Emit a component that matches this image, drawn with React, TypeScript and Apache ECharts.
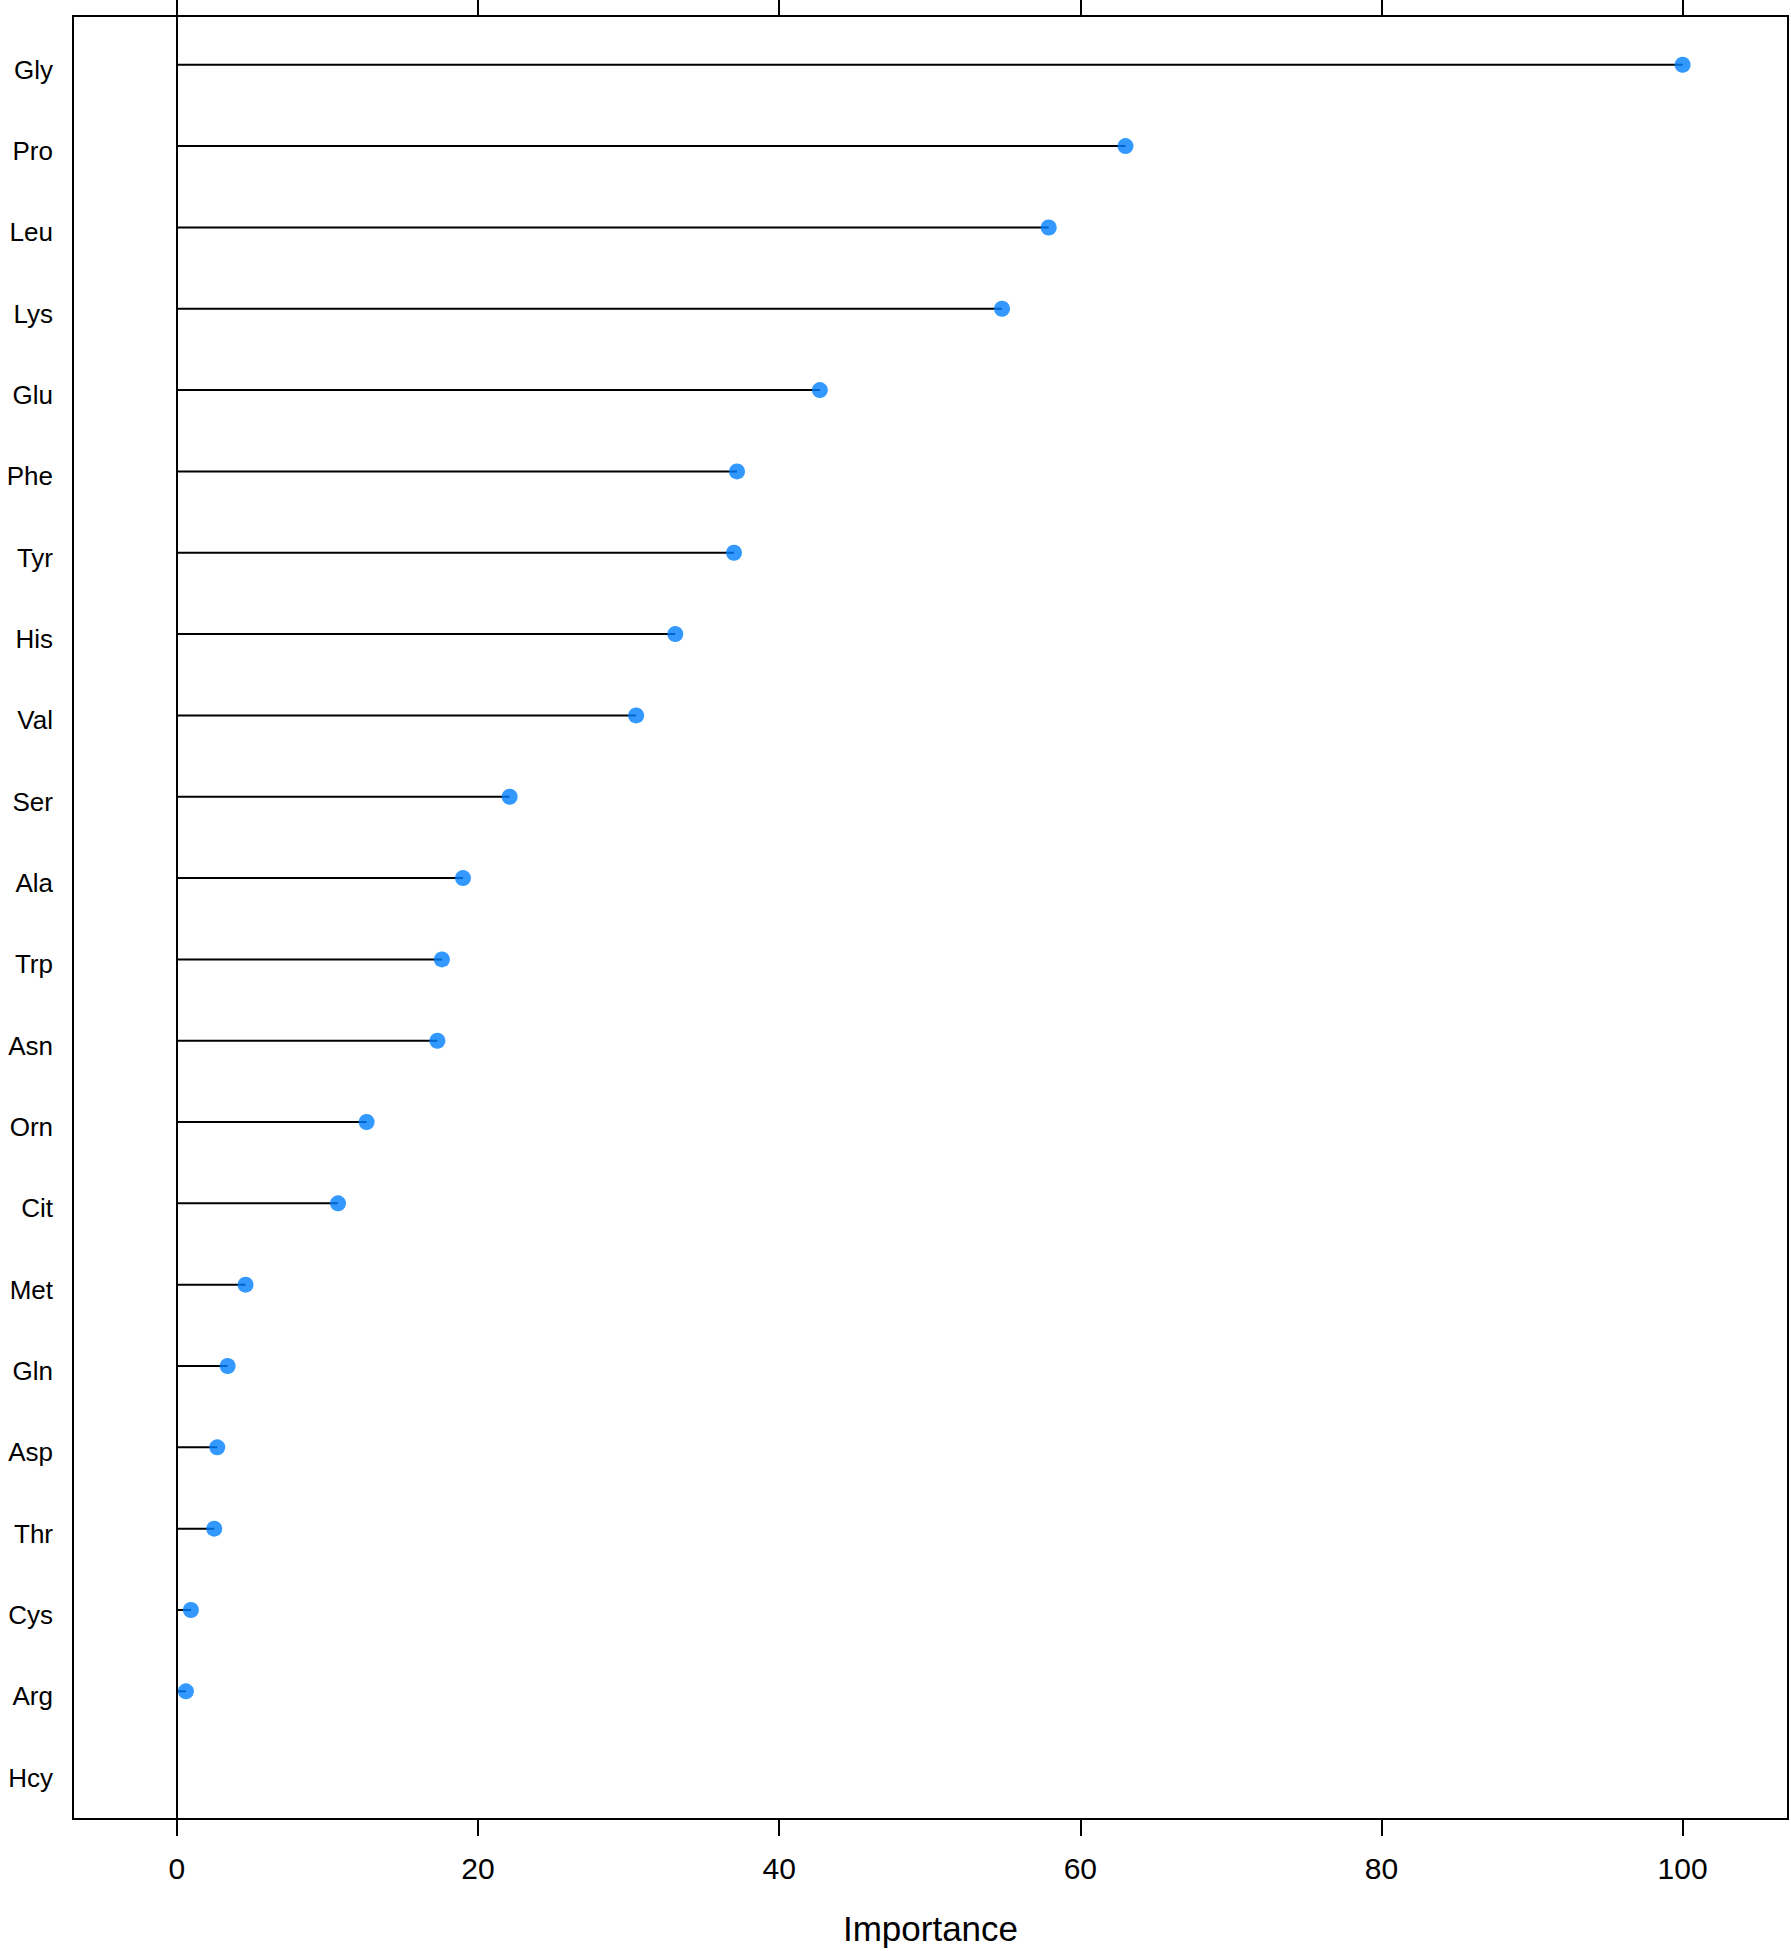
import React, { useEffect, useRef } from "react";
import * as echarts from "echarts";

const categories = [
  "Gly", "Pro", "Leu", "Lys", "Glu", "Phe", "Tyr", "His", "Val", "Ser", "Ala",
  "Trp", "Asn", "Orn", "Cit", "Met", "Gln", "Asp", "Thr", "Cys", "Arg", "Hcy",
];
const importance: (number | null)[] = [
  100, 63.0, 57.9, 54.8, 42.7, 37.2, 37.0, 33.1, 30.5, 22.1, 19.0,
  17.6, 17.3, 12.6, 10.7, 4.56, 3.37, 2.68, 2.48, 0.93, 0.6, null,
];
const xTicks = [0, 20, 40, 60, 80, 100];
const rowIndex = categories.map((_, i) => i);
const xTitle = "Importance";

const FONT = "'Liberation Sans', Arial, sans-serif";

export default function App() {
  const ref = useRef<HTMLDivElement>(null);
  useEffect(() => {
    document.body.style.margin = "0";
    if (!ref.current) return;
    const chart = echarts.init(ref.current, undefined, { renderer: "svg" });
    const pts = importance
      .map((v, i) => (v === null ? null : [v, i]))
      .filter((d) => d !== null) as number[][];
    chart.setOption({
      animation: false,
      backgroundColor: "#ffffff",
      grid: {
        left: 73,
        right: 3,
        top: 16,
        bottom: 132,
        show: true,
        borderColor: "#000",
        borderWidth: 2,
        backgroundColor: "transparent",
      },
      xAxis: [
        {
          type: "value",
          position: "bottom",
          min: -6.9,
          max: 107,
          name: xTitle,
          nameLocation: "middle",
          nameGap: 92,
          nameTextStyle: { fontFamily: FONT, fontSize: 35, color: "#000" },
          axisLine: { show: false, onZero: false },
          splitLine: { show: false },
          axisTick: {
            show: true,
            length: 17,
            customValues: xTicks,
            lineStyle: { color: "#000", width: 2 },
          },
          axisLabel: {
            customValues: xTicks,
            margin: 34,
            fontFamily: "'Liberation Sans Narrow', 'Liberation Sans', Arial, sans-serif",
            fontSize: 30,
            color: "#000",
          },
        },
        {
          type: "value",
          position: "top",
          min: -6.9,
          max: 107,
          axisLine: { show: false, onZero: false },
          splitLine: { show: false },
          axisTick: {
            show: true,
            length: 17,
            customValues: xTicks,
            lineStyle: { color: "#000", width: 2 },
          },
          axisLabel: { show: false },
        },
      ],
      yAxis: {
        type: "value",
        inverse: true,
        min: -0.6,
        max: 21.57,
        axisLine: { show: false, onZero: false },
        axisTick: { show: false },
        splitLine: { show: false },
        axisLabel: {
          customValues: rowIndex,
          formatter: (v: number) => "{a|" + (categories[Math.round(v)] ?? "") + "}",
          margin: 20,
          rich: {
            a: {
              fontFamily: FONT,
              fontSize: 26,
              color: "#000",
              padding: [10, 0, 0, 0],
            },
          },
          fontFamily: FONT,
          fontSize: 26,
          color: "#000",
        },
      },
      series: [
        {
          type: "custom",
          xAxisIndex: 0,
          data: pts,
          renderItem: (params: any, api: any) => {
            const p0 = api.coord([0, api.value(1)]);
            const p1 = api.coord([api.value(0), api.value(1)]);
            return {
              type: "line",
              shape: { x1: p0[0], y1: p0[1], x2: p1[0], y2: p1[1] },
              style: { stroke: "#000", lineWidth: 2 },
            };
          },
          z: 2,
        },
        {
          type: "scatter",
          xAxisIndex: 0,
          data: pts,
          symbol: "circle",
          symbolSize: 16,
          itemStyle: { color: "#0080ff" },
          z: 3,
          markLine: {
            silent: true,
            symbol: "none",
            label: { show: false },
            lineStyle: { color: "#000", width: 2, type: "solid" },
            data: [{ xAxis: 0 }],
          },
        },
      ],
    });
    return () => chart.dispose();
  }, []);
  return <div ref={ref} style={{ width: 1791, height: 1951 }} />;
}
